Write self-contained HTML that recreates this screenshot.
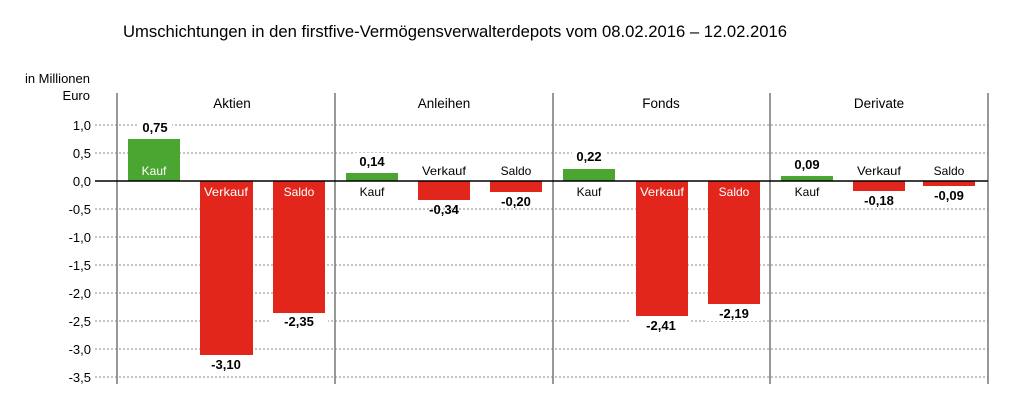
<!DOCTYPE html>
<html><head><meta charset="utf-8"><style>
html,body{margin:0;padding:0;background:#fff;}
svg{display:block;font-family:"Liberation Sans Narrow","Liberation Sans",sans-serif;}
</style></head><body>
<svg width="1022" height="413" viewBox="0 0 1022 413" xmlns="http://www.w3.org/2000/svg">
<text x="123" y="37" font-size="16.5" textLength="664" lengthAdjust="spacingAndGlyphs" font-family="Liberation Sans, sans-serif" fill="#000">Umschichtungen in den firstfive-Vermögensverwalterdepots vom 08.02.2016 – 12.02.2016</text>
<text x="90" y="83" font-size="13" text-anchor="end" fill="#000">in Millionen</text>
<text x="90" y="100" font-size="13" text-anchor="end" fill="#000">Euro</text>
<g stroke="#888" stroke-width="1" stroke-dasharray="2,2">
<line x1="95" y1="125" x2="988" y2="125"/>
<line x1="95" y1="153" x2="988" y2="153"/>
<line x1="95" y1="209" x2="988" y2="209"/>
<line x1="95" y1="237" x2="988" y2="237"/>
<line x1="95" y1="265" x2="988" y2="265"/>
<line x1="95" y1="293" x2="988" y2="293"/>
<line x1="95" y1="321" x2="988" y2="321"/>
<line x1="95" y1="349" x2="988" y2="349"/>
<line x1="95" y1="377" x2="988" y2="377"/>
</g>
<g font-size="13" text-anchor="end" fill="#000">
<text x="91" y="130">1,0</text><text x="91" y="158">0,5</text><text x="91" y="186">0,0</text>
<text x="91" y="214">-0,5</text><text x="91" y="242">-1,0</text><text x="91" y="270">-1,5</text>
<text x="91" y="298">-2,0</text><text x="91" y="326">-2,5</text><text x="91" y="354">-3,0</text><text x="91" y="382">-3,5</text>
</g>
<g stroke="#777" stroke-width="1.5">
<line x1="117" y1="93" x2="117" y2="384"/><line x1="335" y1="93" x2="335" y2="384"/>
<line x1="553" y1="93" x2="553" y2="384"/><line x1="770" y1="93" x2="770" y2="384"/>
<line x1="988" y1="93" x2="988" y2="384"/>
</g>
<g font-size="13.5" text-anchor="middle" fill="#000">
<text x="232" y="108">Aktien</text><text x="444" y="108">Anleihen</text>
<text x="661" y="108">Fonds</text><text x="879" y="108">Derivate</text>
</g>
<g fill="#fff"><rect x="138" y="118" width="34" height="16"/><rect x="355" y="153" width="34" height="16"/><rect x="572" y="148" width="34" height="16"/><rect x="790" y="156" width="34" height="16"/>
<rect x="200" y="357" width="52" height="18"/><rect x="270" y="314" width="58" height="16"/><rect x="631" y="318" width="58" height="16"/><rect x="707" y="305" width="54" height="16"/></g>
<g fill="#4aa531">
<rect x="128" y="139" width="52" height="42"/>
<rect x="346" y="173" width="52" height="8"/>
<rect x="563" y="169" width="52" height="12"/>
<rect x="781" y="176" width="52" height="5"/>
</g>
<g fill="#e2261b">
<rect x="200" y="181" width="53" height="174"/>
<rect x="273" y="181" width="52" height="132"/>
<rect x="418" y="181" width="52" height="19"/>
<rect x="490" y="181" width="52" height="11"/>
<rect x="636" y="181" width="52" height="135"/>
<rect x="708" y="181" width="52" height="123"/>
<rect x="853" y="181" width="52" height="10"/>
<rect x="923" y="181" width="52" height="5"/>
</g>
<line x1="95" y1="181" x2="988" y2="181" stroke="#000" stroke-width="1.5"/>
<g font-size="12" text-anchor="middle" fill="#fff">
<text x="154" y="175">Kauf</text><text x="226" y="196" textLength="44" lengthAdjust="spacingAndGlyphs">Verkauf</text><text x="299" y="196">Saldo</text>
<text x="662" y="196" textLength="44" lengthAdjust="spacingAndGlyphs">Verkauf</text><text x="734" y="196">Saldo</text>
</g>
<g font-size="12" text-anchor="middle" fill="#000">
<text x="372" y="196">Kauf</text><text x="444" y="175" textLength="44" lengthAdjust="spacingAndGlyphs">Verkauf</text><text x="516" y="175">Saldo</text>
<text x="589" y="196">Kauf</text>
<text x="807" y="196">Kauf</text><text x="879" y="175" textLength="44" lengthAdjust="spacingAndGlyphs">Verkauf</text><text x="949" y="175">Saldo</text>
</g>
<g font-size="13" font-weight="bold" text-anchor="middle" fill="#000">
<text x="155" y="132">0,75</text><text x="226" y="369">-3,10</text><text x="299" y="326">-2,35</text>
<text x="372" y="166">0,14</text><text x="444" y="214">-0,34</text><text x="516" y="206">-0,20</text>
<text x="589" y="161">0,22</text><text x="661" y="330">-2,41</text><text x="734" y="318">-2,19</text>
<text x="807" y="169">0,09</text><text x="879" y="205">-0,18</text><text x="949" y="200">-0,09</text>
</g>
</svg>
</body></html>
